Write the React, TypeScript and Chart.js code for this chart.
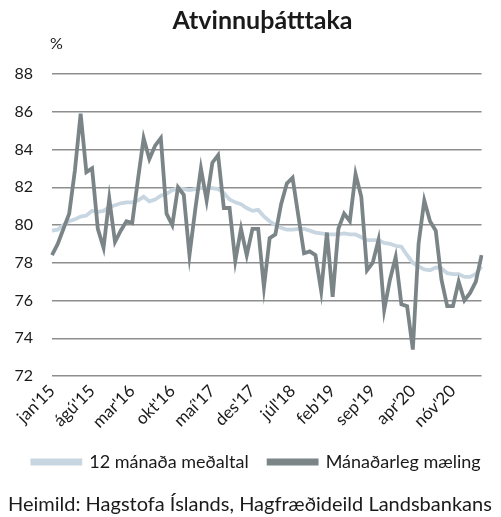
import React, { useEffect, useRef } from "react";
import { Chart, registerables } from "chart.js";

Chart.register(...registerables);

const TITLE = "Atvinnuþátttaka";
const UNIT = "%";
const SOURCE = "Heimild: Hagstofa Íslands, Hagfræðideild Landsbankans";
const MONTHS = ["jan", "feb", "mar", "apr", "maí", "jún", "júl", "ágú", "sep", "okt", "nóv", "des"];
const YEARS = ["15", "16", "17", "18", "19", "20", "21"];
const N_MONTHS = 76; // jan'15 .. apr'21
const TICK_EVERY = 7;
const Y_MIN = 72;
const Y_MAX = 88;
const Y_STEP = 2;

const SERIES_AVG_LABEL = "12 mánaða meðaltal";
const SERIES_MONTH_LABEL = "Mánaðarleg mæling";

const avg12 = [
  79.7, 79.75, 80.0, 80.2, 80.3, 80.45, 80.5, 80.75, 80.7, 80.75, 80.95, 81.05,
  81.15, 81.2, 81.2, 81.3, 81.5, 81.25, 81.35, 81.55, 81.65, 81.85, 81.95, 81.9,
  81.85, 81.9, 81.95, 81.95, 81.95, 81.9, 81.7, 81.35, 81.2, 81.1, 80.9, 80.75,
  80.8, 80.45, 80.2, 80.0, 79.85, 79.75, 79.75, 79.8, 79.8, 79.7, 79.6, 79.55,
  79.5, 79.5, 79.5, 79.55, 79.5, 79.5, 79.35, 79.2, 79.2, 79.2, 79.05, 79.0,
  78.9, 78.85, 78.4, 78.0, 77.8, 77.65, 77.6, 77.75, 77.7, 77.45, 77.4, 77.4,
  77.25, 77.25, 77.4, 77.8,
];

const monthly = [
  78.4, 79.0, 79.8, 80.6, 82.9, 85.9, 82.8, 83.0, 79.8, 78.8, 81.4, 79.1,
  79.7, 80.2, 80.1, 82.4, 84.6, 83.5, 84.2, 84.6, 80.6, 80.0, 82.0, 81.6,
  78.4, 80.8, 83.0, 81.3, 83.3, 83.7, 80.9, 80.9, 78.1, 79.8, 78.4, 79.8,
  79.8, 76.7, 79.3, 79.5, 81.1, 82.2, 82.5, 80.5, 78.5, 78.6, 78.4, 76.5,
  79.6, 76.2, 79.8, 80.6, 80.2, 82.7, 81.5, 77.6, 78.0, 79.2, 75.5, 77.1,
  78.3, 75.8, 75.7, 73.4, 79.0, 81.3, 80.2, 79.7, 77.1, 75.7, 75.7, 77.0,
  76.0, 76.4, 77.0, 78.4,
];

const categories: string[] = [];
for (let i = 0; i < N_MONTHS; i++) {
  categories.push(MONTHS[i % 12] + "'" + YEARS[Math.floor(i / 12)]);
}

const FONT = "Lato, 'Noto Sans', sans-serif";
const TEXT = "#1a1a1a";
const LEGEND_SHIFT = 11.5;

const extrasPlugin = {
  id: "extras",
  afterLayout(chart: any) {
    const lg = chart.legend;
    if (lg) {
      lg.left += LEGEND_SHIFT;
      lg.right += LEGEND_SHIFT;
    }
  },
  afterDraw(chart: any) {
    const { ctx, chartArea } = chart;
    ctx.save();
    ctx.fillStyle = TEXT;
    ctx.textBaseline = "middle";
    ctx.textAlign = "center";
    ctx.font = "bold 25px " + FONT;
    ctx.fillText(TITLE, 262.5, 21);
    ctx.textAlign = "left";
    ctx.font = "16px " + FONT;
    ctx.fillText(UNIT, chartArea.left - 2, 44);
    ctx.font = "20px " + FONT;
    ctx.fillText(SOURCE, 8, 505);
    ctx.restore();
  },
};

export default function App() {
  const ref = useRef<HTMLCanvasElement | null>(null);
  useEffect(() => {
    document.body.style.margin = "0";
    const c = new Chart(ref.current as HTMLCanvasElement, {
      type: "line",
      data: {
        labels: categories,
        datasets: [
          {
            label: SERIES_AVG_LABEL,
            data: avg12,
            borderColor: "#c8d6e1",
            backgroundColor: "#c8d6e1",
            borderWidth: 3.8,
            pointRadius: 0,
            tension: 0,
            order: 1,
          },
          {
            label: SERIES_MONTH_LABEL,
            data: monthly,
            borderColor: "#7b8588",
            backgroundColor: "#7b8588",
            borderWidth: 3.8,
            pointRadius: 0,
            tension: 0,
            order: 0,
          },
        ],
      },
      options: {
        animation: false,
        responsive: true,
        maintainAspectRatio: false,
        layout: { padding: { left: 0, right: 11, top: 74, bottom: 36 } },
        plugins: {
          title: { display: false },
          legend: {
            display: true,
            position: "bottom",
            reverse: true,
            labels: {
              color: TEXT,
              font: { family: FONT, size: 18 },
              boxWidth: 48,
              boxHeight: 3,
              padding: 20,
            },
          },
          tooltip: { enabled: false },
        },
        scales: {
          x: {
            type: "category",
            grid: { display: false, drawTicks: false },
            border: { display: false },
            ticks: {
              autoSkip: false,
              maxRotation: 45,
              minRotation: 45,
              color: TEXT,
              font: { family: FONT, size: 17 },
              padding: 5,
              callback: (_v: any, i: number) => (i % TICK_EVERY === 0 ? categories[i] : ""),
            },
            afterFit: (s: any) => {
              s.height = 57;
            },
          },
          y: {
            min: Y_MIN,
            max: Y_MAX,
            grid: { color: "#8e8e8e", lineWidth: 1.5, drawTicks: false },
            border: { display: false },
            ticks: {
              stepSize: Y_STEP,
              color: TEXT,
              font: { family: FONT, size: 16 },
              padding: 19,
            },
            afterFit: (s: any) => {
              s.width = 52;
            },
          },
        },
      },
      plugins: [extrasPlugin],
    });
    return () => c.destroy();
  }, []);
  return (
    <div style={{ position: "relative", width: 501, height: 517 }}>
      <canvas ref={ref} />
    </div>
  );
}
